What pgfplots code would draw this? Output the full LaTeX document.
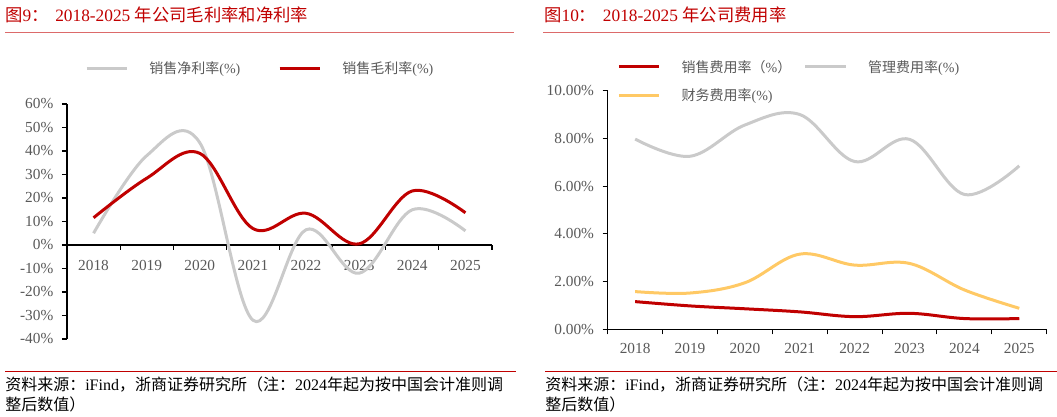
\documentclass[border=0pt]{standalone}
\usepackage{pgfplots}
\pgfplotsset{compat=1.18}
\usepackage{fontspec}
\setmainfont{Liberation Serif}
\newfontfamily\cjk{Noto Sans CJK SC}

\definecolor{zsred}{HTML}{C00000}
\definecolor{rulered}{HTML}{DC6A6A}
\definecolor{netgray}{HTML}{CACACA}
\definecolor{finyellow}{HTML}{FFC965}
\definecolor{ticktext}{HTML}{595959}

% annual margins, %
\pgfplotstableread{
idx year  net   gross
0   2018  5.0   11.6
1   2019  38.0  28.4
2   2020  43.5  39.0
3   2021  -32.0 7.0
4   2022  6.5   13.5
5   2023  -12.0 0.5
6   2024  15.0  23.0
7   2025  6.0   13.7
}\margins

% annual expense ratios, %
\pgfplotstableread{
idx year  sales admin finance
0   2018  1.16  7.97  1.58
1   2019  0.98  7.25  1.52
2   2020  0.86  8.56  1.95
3   2021  0.73  9.00  3.15
4   2022  0.53  7.03  2.69
5   2023  0.67  7.96  2.76
6   2024  0.45  5.65  1.65
7   2025  0.45  6.85  0.88
}\expenses

\pgfplotsset{
  report axis/.style={
    scale only axis,
    xmin=-0.5, xmax=7.5,
    axis line style={black, line width=0.8pt},
    every tick/.style={black, line width=0.8pt},
    major tick length=3.75pt,
    tick align=outside,
    xtick={-0.5,0.5,1.5,2.5,3.5,4.5,5.5,6.5,7.5},
    xticklabels={2018,2019,2020,2021,2022,2023,2024,2025},
    x tick label as interval,
    /pgf/number format/assume math mode=true,
    tick label style={font=\fontsize{11.5}{13}\selectfont, text=ticktext},
    hide obscured x ticks=false,
    hide obscured y ticks=false,
    clip=false,
    legend cell align=left,
    legend image code/.code={\draw[##1, line width=2.25pt] (0pt,0pt) -- (30.5pt,0pt);},
  },
  report legend/.style={
    draw=none, fill=none, inner sep=0pt, outer sep=0pt,
    font=\fontsize{10.5}{12}\selectfont, text=ticktext,
    nodes={inner sep=0pt, text height=9pt, text depth=1pt, text width=#1, align=left},
    /tikz/every odd column/.append style={column sep=15.5pt},
    /tikz/every even column/.append style={column sep=0pt},
    row sep=11.2pt,
  },
}

\begin{document}
\begin{tikzpicture}
\begin{scope}[x=0.75pt, y=-0.75pt]
  \path[use as bounding box] (0,0) rectangle (1057,417);
  % headings
  \node[anchor=base west, inner sep=0, text=zsred, font=\fontsize{13}{15}\selectfont]
    at (5,22) {{\cjk 图}9{\cjk ：}\hspace{5pt}2018-2025 {\cjk 年公司毛利率和净利率}};
  \node[anchor=base west, inner sep=0, text=zsred, font=\fontsize{13}{15}\selectfont]
    at (544,22) {{\cjk 图}10{\cjk ：}\hspace{5pt}2018-2025 {\cjk 年公司费用率}};
  \draw[rulered, line width=1pt] (5,32.3) -- (514,32.3);
  \draw[rulered, line width=1pt] (543,32.3) -- (1050,32.3);
  % source notes
  \draw[zsred, line width=1pt] (5,371.7) -- (516,371.7);
  \draw[zsred, line width=1pt] (545,371.7) -- (1057,371.7);
  \foreach \fx in {5,545} {
    \node[anchor=base west, inner sep=0, font=\fontsize{12}{14}\selectfont]
      at (\fx,390) {{\cjk 资料来源：}iFind{\cjk ，浙商证券研究所（注：}2024{\cjk 年起为按中国会计准则调}};
    \node[anchor=base west, inner sep=0, font=\fontsize{12}{14}\selectfont]
      at (\fx,410) {{\cjk 整后数值）}};
  }
  \coordinate (LA) at (67,339);
  \coordinate (RA) at (607.7,329.3);
\end{scope}

% margins
\begin{axis}[
  report axis,
  at={(LA)}, anchor=south west,
  width=318.75pt, height=176.25pt,
  ymin=-40, ymax=60,
  axis x line*=middle, axis y line*=left,
  ytick={-40,-30,-20,-10,0,10,20,30,40,50,60},
  yticklabel={\pgfmathprintnumber{\tick}\%},
  xticklabel style={yshift=-4.5pt},
  yticklabel style={xshift=-3pt},
  legend columns=2,
  legend style={report legend=96.5pt, at={(0.0424,1.180)}, anchor=north west},
]
\addplot[netgray, line width=2.25pt, smooth, tension=0.6] table[x=idx, y=net] {\margins};
\addlegendentry{{\cjk 销售净利率}(\%)}
\addplot[zsred, line width=2.25pt, smooth, tension=0.6] table[x=idx, y=gross] {\margins};
\addlegendentry{{\cjk 销售毛利率}(\%)}
\end{axis}

% expense ratios
\begin{axis}[
  report axis,
  at={(RA)}, anchor=south west,
  width=329.25pt, height=179pt,
  ymin=0, ymax=10,
  axis x line*=bottom, axis y line*=left,
  ytick={0,2,4,6,8,10},
  yticklabel={\pgfmathprintnumber[fixed, fixed zerofill, precision=2]{\tick}\%},
  xticklabel style={yshift=-3pt},
  yticklabel style={xshift=-3pt},
  legend columns=2,
  legend style={report legend=91.7pt, at={(0.0219,1.128)}, anchor=north west},
]
\addplot[zsred, line width=2.25pt, smooth, tension=0.6] table[x=idx, y=sales] {\expenses};
\addlegendentry{{\cjk 销售费用率（}\%{\cjk ）}}
\addplot[netgray, line width=2.25pt, smooth, tension=0.6] table[x=idx, y=admin] {\expenses};
\addlegendentry{{\cjk 管理费用率}(\%)}
\addplot[finyellow, line width=2.25pt, smooth, tension=0.6] table[x=idx, y=finance] {\expenses};
\addlegendentry{{\cjk 财务费用率}(\%)}
\end{axis}
\end{tikzpicture}
\end{document}
